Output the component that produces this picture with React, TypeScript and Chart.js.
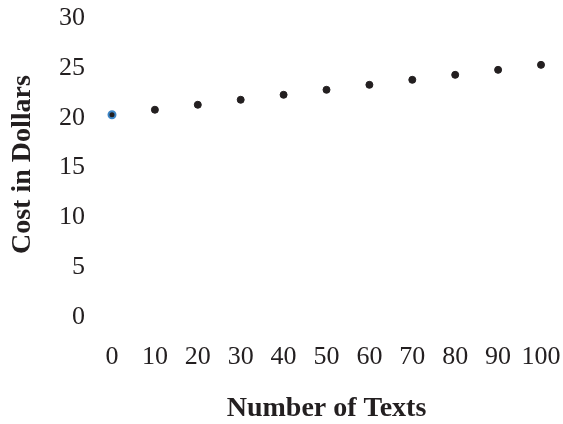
import React, { useEffect, useRef } from "react";
import { Chart, registerables } from "chart.js";

Chart.register(...registerables);

const texts: number[] = [0, 10, 20, 30, 40, 50, 60, 70, 80, 90, 100];
const costs: number[] = [20, 20.5, 21, 21.5, 22, 22.5, 23, 23.5, 24, 24.5, 25];
const xTitle = "Number of Texts";
const yTitle = "Cost in Dollars";

const INK = "#231f20";
const SERIF = "'Liberation Serif', 'Times New Roman', serif";

export default function App() {
  const ref = useRef<HTMLCanvasElement | null>(null);

  useEffect(() => {
    if (!ref.current) return;
    const pts = texts.map((x, i) => ({ x, y: costs[i] }));
    const chart = new Chart(ref.current, {
      type: "scatter",
      data: {
        datasets: [
          {
            data: pts,
            clip: false,
            backgroundColor: INK,
            pointBackgroundColor: INK,
            pointBorderColor: texts.map((_, i) => (i === 0 ? "#3d85c6" : INK)),
            pointBorderWidth: texts.map((_, i) => (i === 0 ? 2 : 1)),
            pointRadius: 3.5,
          },
        ],
      },
      options: {
        animation: false,
        responsive: false,
        devicePixelRatio: 1,
        layout: { padding: 0 },
        plugins: {
          legend: { display: false },
          tooltip: { enabled: false },
        },
        scales: {
          x: {
            type: "linear",
            min: 0,
            max: 100,
            grid: { display: false, drawTicks: false },
            border: { display: false },
            afterFit: (s: any) => {
              s.paddingLeft = 0;
              s.paddingRight = 22;
            },
            ticks: {
              stepSize: 10,
              autoSkip: false,
              padding: 27,
              color: INK,
              font: { family: SERIF, size: 26 },
              maxRotation: 0,
            },
            title: {
              display: true,
              text: xTitle,
              color: INK,
              font: { family: SERIF, size: 28, weight: "bold" },
              padding: { top: -7, bottom: -2 },
            },
          },
          y: {
            type: "linear",
            min: 0,
            max: 30,
            grid: { display: false, drawTicks: false },
            border: { display: false },
            afterFit: (s: any) => {
              s.paddingTop = 15;
              s.paddingBottom = 0;
            },
            ticks: {
              stepSize: 5,
              padding: 27,
              labelOffset: 3,
              color: INK,
              font: { family: SERIF, size: 26 },
            },
            title: {
              display: true,
              text: yTitle,
              color: INK,
              font: { family: SERIF, size: 28, weight: "bold" },
              padding: { top: 6, bottom: -7.6 },
            },
          },
        },
      },
    });
    return () => chart.destroy();
  }, []);

  return (
    <div style={{ position: "fixed", left: 0, top: 0, width: 563, height: 424, background: "#fff" }}>
      <canvas ref={ref} width={563} height={424} style={{ display: "block" }} />
    </div>
  );
}
